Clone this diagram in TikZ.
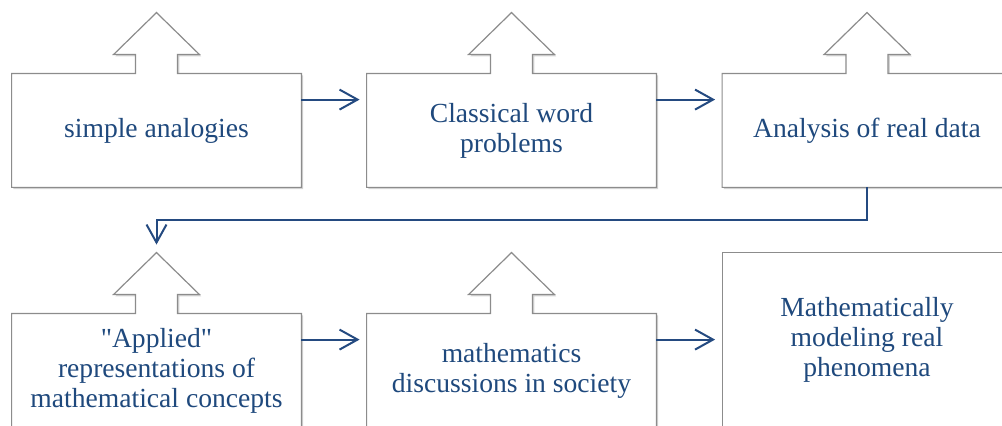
\documentclass[tikz,border=0pt]{standalone}
\usepackage{fontspec}
\setmainfont{Liberation Serif}
\usetikzlibrary{arrows.meta,shadows,backgrounds}

\definecolor{textblue}{RGB}{31,73,125}
\definecolor{linkblue}{RGB}{36,74,128}
\definecolor{framegray}{RGB}{140,140,140}

\tikzset{
  stage/.style={minimum width=144.5pt, minimum height=56.5pt, inner sep=0pt,
    align=center, text=textblue, font=\fontsize{13.8pt}{15pt}\selectfont},
  frame/.style={draw=framegray, line width=0.6pt, fill=white,
    drop shadow={shadow xshift=0.9pt, shadow yshift=-0.9pt, opacity=0.35}},
  link/.style={draw=linkblue, line width=1pt,
    -{Straight Barb[length=9pt,width=10pt]}, shorten >=3.5pt}
}

\begin{document}
\begin{tikzpicture}[x=0.5pt,y=0.5pt]
    \useasboundingbox (0,0) rectangle (1002,426);

    \node[stage] (s1) at (156.5,295.5) {simple analogies};
    \node[stage] (s2) at (511.5,295.5) {Classical word\\problems};
    \node[stage] (s3) at (867,295.5) {Analysis of real data};
    \node[stage] (s4) at (156.5,55.5) {\textquotedbl Applied\textquotedbl\\representations of\\mathematical concepts};
    \node[stage] (s5) at (511.5,55.5) {mathematics\\discussions in society};
    \node[stage, minimum height=87pt] (s6) at (867,86) {Mathematically\\modeling real\\phenomena};

    % box outlines with the up arrow on top
    \begin{scope}[on background layer]
    \foreach \n in {s1,s2,s3,s4,s5}
        \draw[frame] (\n.north west) -- ([xshift=-10.5pt]\n.north) -- ++(0,19) -- ++(-22,0)
        -- ++(43,42) -- ++(43,-42) -- ++(-22,0) -- ++(0,-19)
        -- (\n.north east) -- (\n.south east) -- (\n.south west) -- cycle;
    \draw[frame] (s6.north west) rectangle (s6.south east);
    \end{scope}

    \coordinate (t4) at ([yshift=30pt]s4.north);
    \coordinate (a5) at ([yshift=-13pt]s5.north east);

    \draw[link] ([yshift=-13pt]s1.north east) -- ([yshift=-13pt]s2.north west);
    \draw[link] ([yshift=-13pt]s2.north east) -- ([yshift=-13pt]s3.north west);
    \draw[link, shorten >=4.5pt] (s3.south) -- ++(0,-33) -| (t4);
    \draw[link] ([yshift=-13pt]s4.north east) -- ([yshift=-13pt]s5.north west);
    \draw[link] (a5) -- (a5 -| s6.west);
\end{tikzpicture}
\end{document}
